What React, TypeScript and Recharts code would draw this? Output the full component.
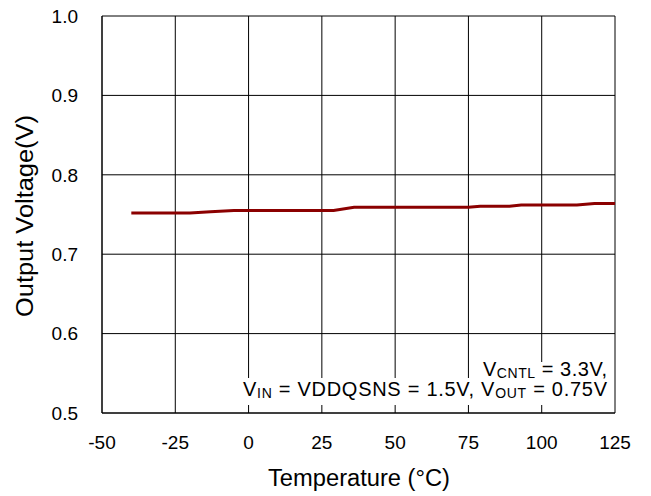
import React from 'react';
import { LineChart, Line, XAxis, YAxis, CartesianGrid } from 'recharts';

// temperature (°C) vs output voltage (V)
const temps = [-40, -20, -13, -5, 29, 36, 75, 79, 89, 93, 112, 118, 125];
const vout = [0.752, 0.752, 0.7535, 0.755, 0.755, 0.759, 0.759, 0.7605, 0.7605, 0.762, 0.762, 0.764, 0.764];

const xTicks = [-50, -25, 0, 25, 50, 75, 100, 125];
const yTicks = [0.5, 0.6, 0.7, 0.8, 0.9, 1.0];

const data = temps.map((t, i) => ({ t, v: vout[i] }));

const FONT = '"Liberation Sans", Arial, sans-serif';

const YTitle = () => (
    <text
        x={25}
        y={216}
        transform="rotate(-90 25 216)"
        textAnchor="middle"
        dominantBaseline="central"
        fontFamily={FONT}
        fontSize={23}
        textLength={202}
        lengthAdjust="spacingAndGlyphs"
        fill="#000"
    >
        Output Voltage(V)
    </text>
);

const XTitle = () => (
    <text
        x={359}
        y={478}
        textAnchor="middle"
        dominantBaseline="central"
        fontFamily={FONT}
        fontSize={23}
        textLength={182}
        lengthAdjust="spacingAndGlyphs"
        fill="#000"
    >
        Temperature (°C)
    </text>
);

const Note = () => (
    <svg width={651} height={496} style={{ position: 'absolute', left: 0, top: 0, pointerEvents: 'none' }}>
        <rect x={472} y={362} width={140} height={16} fill="#fff" />
        <rect x={238} y={378} width={374} height={27} fill="#fff" />
        <text
            x={607}
            y={376}
            textAnchor="end"
            fontFamily={FONT}
            fontSize={20}
            textLength={124}
            lengthAdjust="spacing"
            fill="#000"
        >
            V<tspan fontSize={14} dy={2}>CNTL</tspan>
            <tspan dy={-2}> =  3.3V,</tspan>
        </text>
        <text
            x={607}
            y={396}
            textAnchor="end"
            fontFamily={FONT}
            fontSize={20}
            textLength={364}
            lengthAdjust="spacing"
            fill="#000"
        >
            V<tspan fontSize={14} dy={2}>IN</tspan>
            <tspan dy={-2}> = VDDQSNS = 1.5V, V</tspan>
            <tspan fontSize={14} dy={2}>OUT</tspan>
            <tspan dy={-2}> = 0.75V</tspan>
        </text>
    </svg>
);

export default function App() {
    return (
        <div style={{ position: 'absolute', left: 0, top: 0, width: 651, height: 496, background: '#fff' }}>
            <LineChart width={651} height={496} data={data} margin={{ top: 16, right: 36, bottom: 0, left: 0 }}>
                <CartesianGrid stroke="#000" strokeWidth={1} />
                <XAxis
                    dataKey="t"
                    type="number"
                    domain={[-50, 125]}
                    ticks={xTicks}
                    height={83}
                    tickSize={0}
                    tickMargin={23}
                    axisLine={{ stroke: '#000' }}
                    tick={{ fill: '#000', fontSize: 19, fontFamily: FONT }}
                    label={<XTitle />}
                />
                <YAxis
                    type="number"
                    domain={[0.5, 1.0]}
                    ticks={yTicks}
                    width={102}
                    tickSize={0}
                    tickMargin={24}
                    tickFormatter={(v: number) => v.toFixed(1)}
                    axisLine={{ stroke: '#000' }}
                    tick={{ fill: '#000', fontSize: 19, fontFamily: FONT }}
                    label={<YTitle />}
                />
                <Line
                    dataKey="v"
                    type="linear"
                    stroke="#8b0000"
                    strokeWidth={3}
                    dot={false}
                    isAnimationActive={false}
                />
            </LineChart>
            <Note />
        </div>
    );
}
